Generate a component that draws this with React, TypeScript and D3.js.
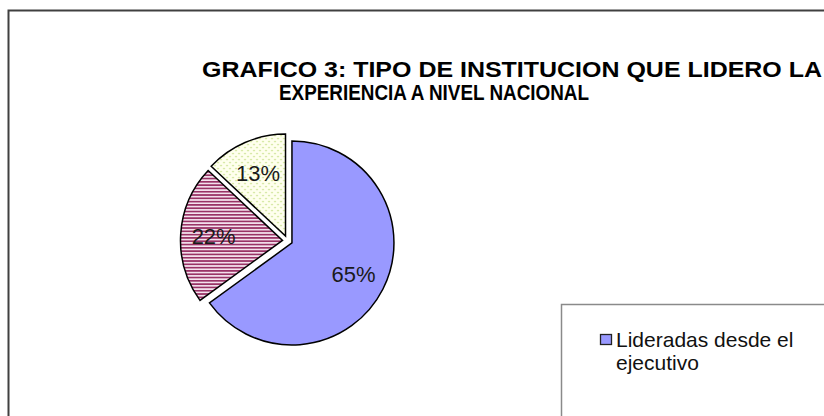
import React from 'react';
import * as d3 from 'd3';

const categories = ["Lideradas desde el ejecutivo", "Lideradas desde el legislativo", "Otras instituciones"];
const values = [65, 22, 13];
const valueLabels = ["65%", "22%", "13%"];
const titleLines = ["GRAFICO 3: TIPO DE INSTITUCION QUE LIDERO LA", "EXPERIENCIA A NIVEL NACIONAL"];

const FONT = "Arial, 'Liberation Sans', Helvetica, sans-serif";
const W = 824, H = 416;

function wrap(text: string, maxChars: number): string[] {
  const words = text.split(' ');
  const lines: string[] = [];
  let cur = '';
  for (const w of words) {
    const next = cur ? cur + ' ' + w : w;
    if (next.length > maxChars && cur) {
      lines.push(cur);
      cur = w;
    } else cur = next;
  }
  if (cur) lines.push(cur);
  return lines;
}

export default function App() {
  const cx = 287.5, cy = 240.7, R = 102, explode = 5, labelR = 69;
  const fills = ["#9999FF", "url(#stripes)", "url(#dots)"];
  const pie = d3.pie<number>().sort(null).value((d) => d).startAngle(0).endAngle(2 * Math.PI)(values);
  const arc = d3.arc<d3.PieArcDatum<number>>().innerRadius(0).outerRadius(R);
  const labelArc = d3.arc<d3.PieArcDatum<number>>().innerRadius(labelR).outerRadius(labelR);

  // legend entries laid out top-down; only those inside the visible frame are drawn
  const lineH = 23;
  let yCursor = 347;
  const legendItems = categories.map((c, i) => {
    const lines = wrap(c, 18);
    const item = { c, i, lines, y0: yCursor };
    yCursor += lines.length * lineH + 38;
    return item;
  }).filter((it) => it.y0 + (it.lines.length - 1) * lineH + 6 < H);

  return (
    <svg width={W} height={H} style={{ position: 'absolute', left: 0, top: 0, background: '#fff' }}>
      <defs>
        <pattern id="stripes" patternUnits="userSpaceOnUse" width={8} height={3.3}>
          <rect x={0} y={0} width={8} height={3.3} fill="#F6E6F0" />
          <rect x={0} y={0} width={8} height={1.7} fill="#993366" />
        </pattern>
        <pattern id="dots" patternUnits="userSpaceOnUse" width={6} height={6}>
          <rect x={0} y={0} width={6} height={6} fill="#FFFFEE" />
          <circle cx={1.5} cy={1.5} r={0.75} fill="#B5D66A" />
          <circle cx={4.5} cy={4.5} r={0.75} fill="#B5D66A" />
        </pattern>
      </defs>
      <rect x={0} y={0} width={W} height={H} fill="#fff" />
      <rect x={8.5} y={10.5} width={900} height={500} fill="#fff" stroke="#404040" strokeWidth={2} />

      <g fontFamily={FONT} fontWeight="bold" fontSize={22.5} fill="#000">
        <text x={202} y={76.5} textLength={620} lengthAdjust="spacingAndGlyphs">{titleLines[0]}</text>
        <text x={279} y={100} textLength={310} lengthAdjust="spacingAndGlyphs">{titleLines[1]}</text>
      </g>

      <g transform={`translate(${cx},${cy})`}>
        {pie.map((p, i) => {
          const mid = (p.startAngle + p.endAngle) / 2;
          const dx = Math.sin(mid) * explode;
          const dy = -Math.cos(mid) * explode;
          const [lx, ly] = labelArc.centroid(p);
          return (
            <g key={i} transform={`translate(${dx},${dy})`}>
              <path d={arc(p) || ''} fill={fills[i]} stroke="#000" strokeWidth={1.5} strokeLinejoin="miter" />
              <text x={lx} y={ly} dy="0.36em" textAnchor="middle" fontFamily={FONT} fontSize={22} fill="#1a1a1a">
                {valueLabels[i]}
              </text>
            </g>
          );
        })}
      </g>

      <rect x={561.5} y={304.5} width={400} height={300} fill="#fff" stroke="#8a8a8a" strokeWidth={1.5} />
      <g fontFamily={FONT} fontSize={21} fill="#111">
        {legendItems.map((it) => (
          <g key={it.i}>
            <rect x={600.5} y={it.y0 - 12.5} width={11} height={10} fill={fills[it.i]} stroke="#222" strokeWidth={1.3} />
            <text x={616} y={it.y0}>
              {it.lines.map((l, j) => (
                <tspan key={j} x={616} dy={j === 0 ? 0 : lineH}>{l}</tspan>
              ))}
            </text>
          </g>
        ))}
      </g>
    </svg>
  );
}
